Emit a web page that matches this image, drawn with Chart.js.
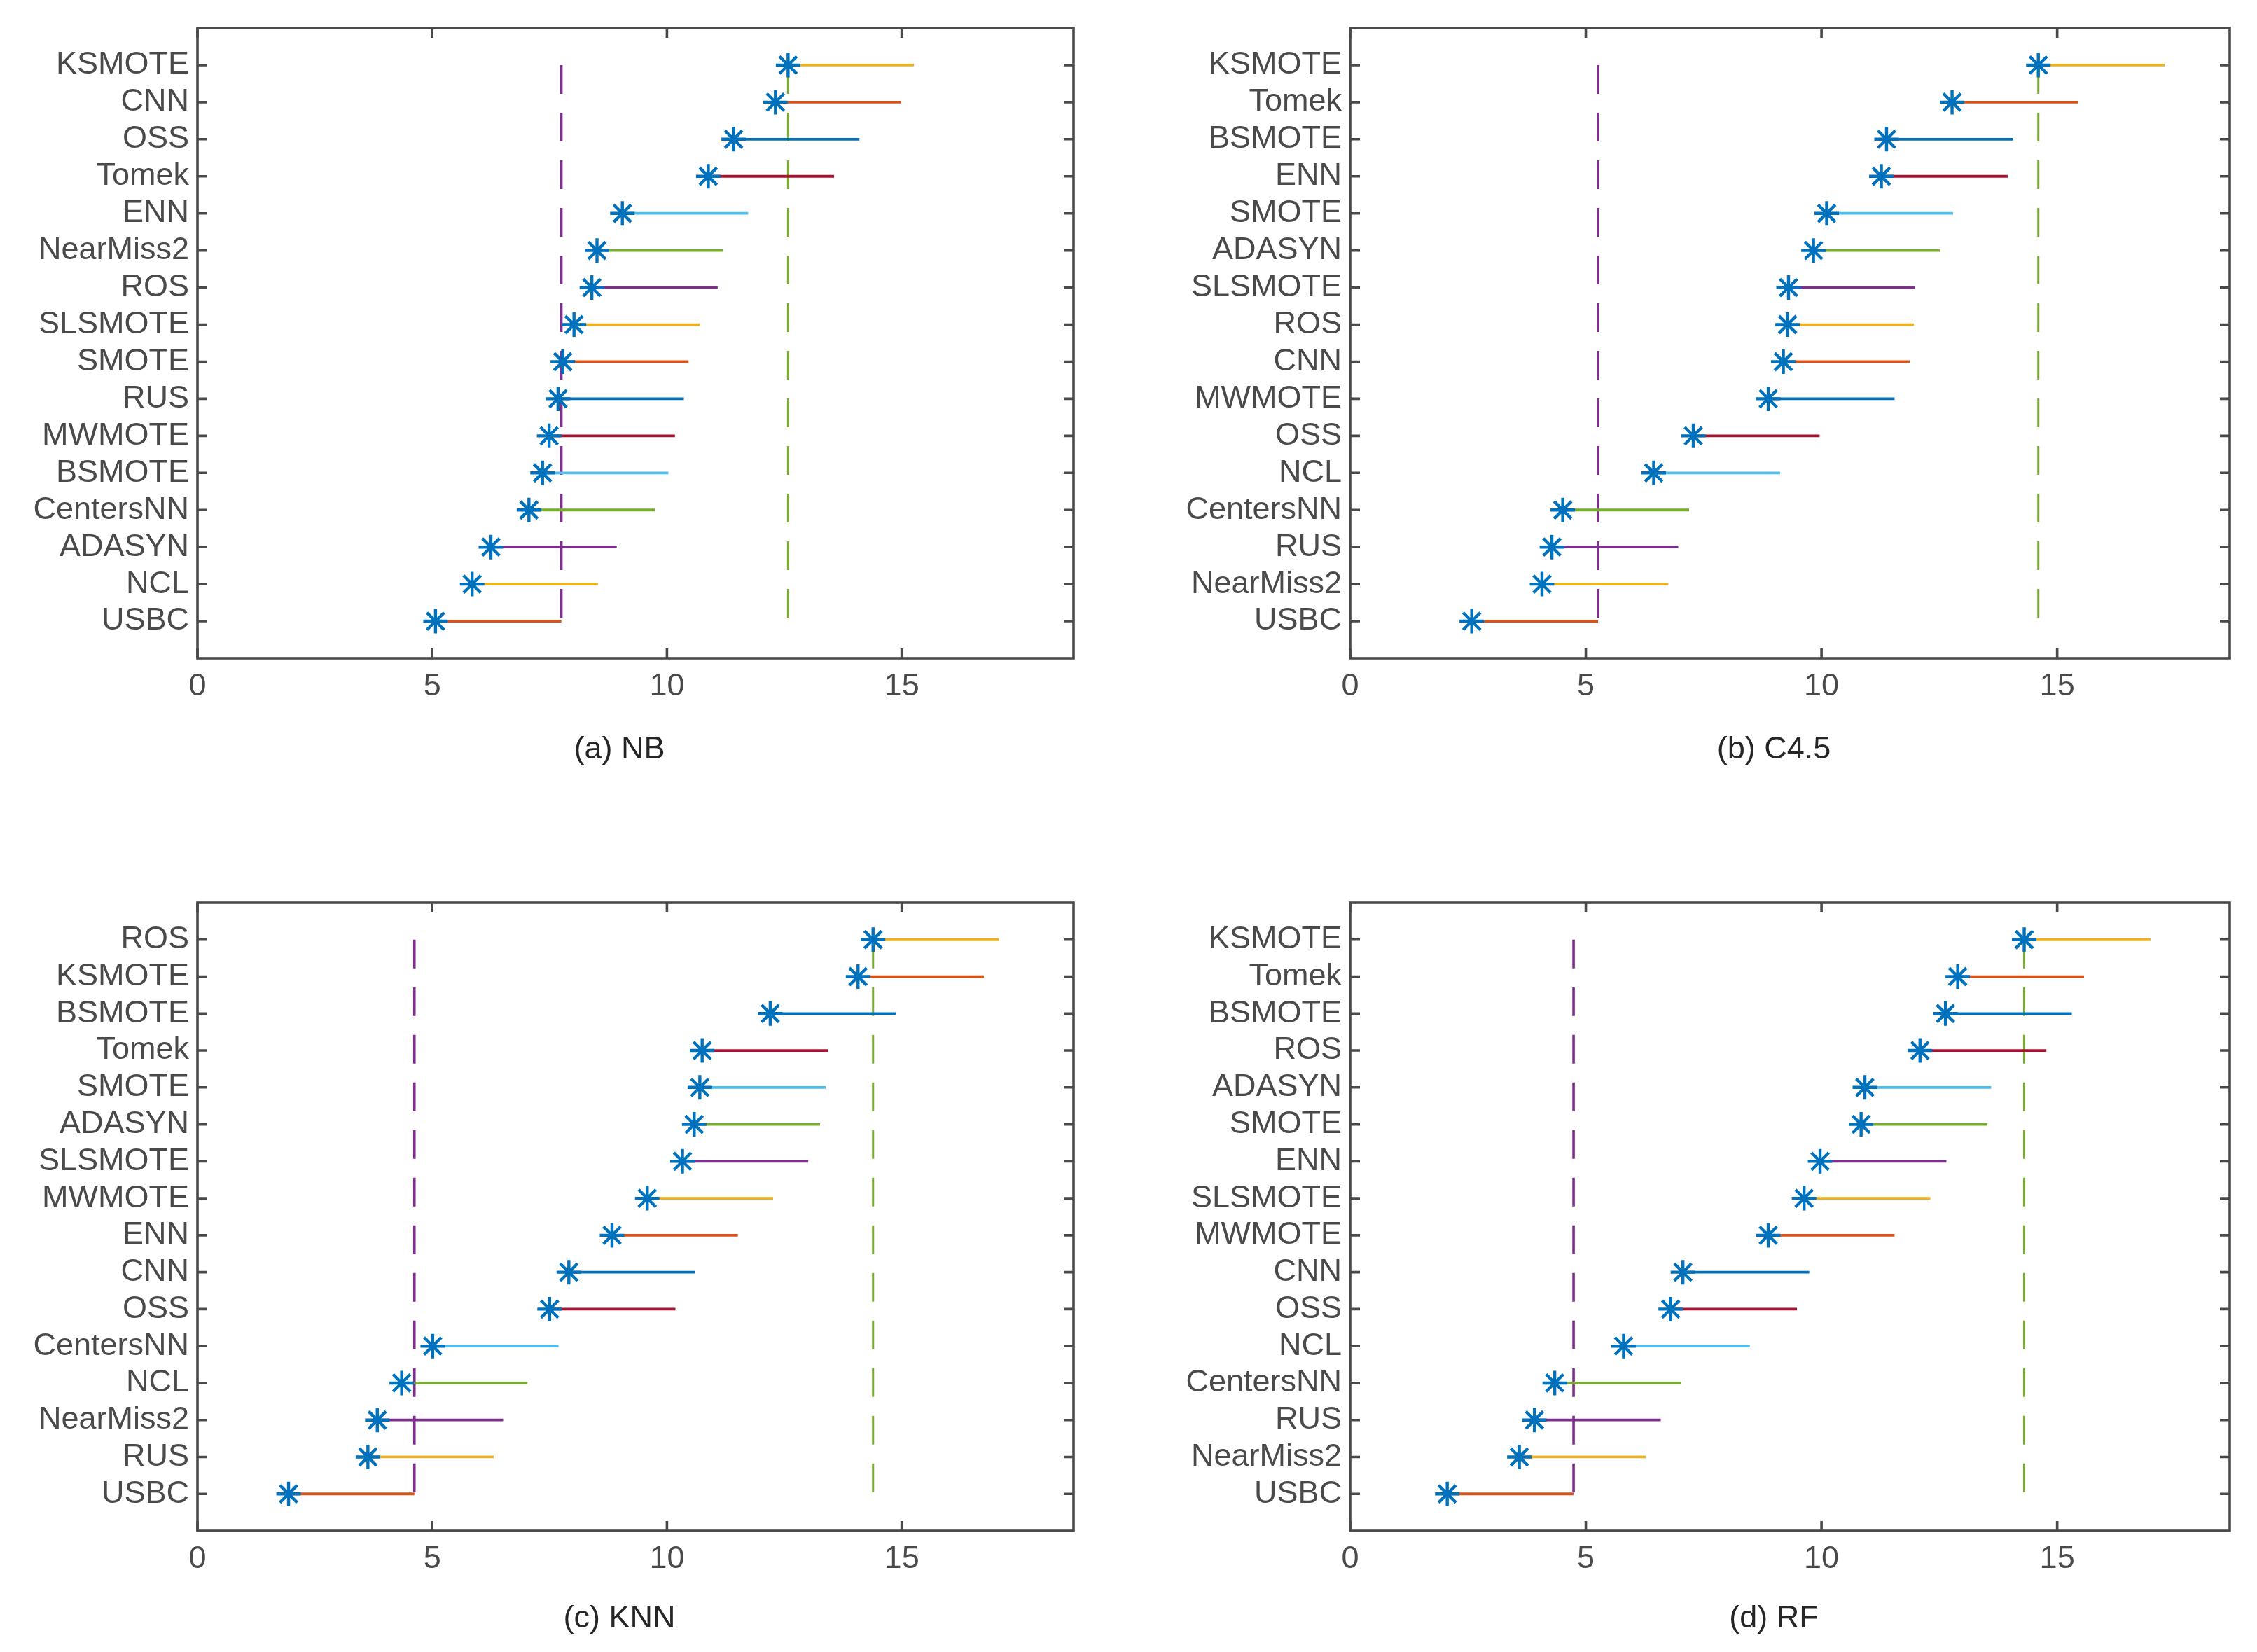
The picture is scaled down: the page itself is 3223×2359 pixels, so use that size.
<!DOCTYPE html>
<html>
<head>
<meta charset="utf-8">
<script src="https://cdn.jsdelivr.net/npm/chart.js@4.4.1/dist/chart.umd.min.js"></script>
<style>
  html, body { margin: 0; padding: 0; background: #fff; }
  body { width: 3223px; height: 2359px; position: relative; overflow: hidden; }
  .panel { position: absolute; }
</style>
</head>
<body>
<div class="panel" style="left:0;top:0;width:1611px;height:1180px"><canvas id="nb"></canvas></div>
<div class="panel" style="left:1611px;top:0;width:1612px;height:1180px"><canvas id="c45"></canvas></div>
<div class="panel" style="left:0;top:1180px;width:1611px;height:1179px"><canvas id="knn"></canvas></div>
<div class="panel" style="left:1611px;top:1180px;width:1612px;height:1179px"><canvas id="rf"></canvas></div>
<script>
// mean ranks, listed top to bottom as in the figure
const nbNames = ["KSMOTE", "CNN", "OSS", "Tomek", "ENN", "NearMiss2", "ROS", "SLSMOTE",
  "SMOTE", "RUS", "MWMOTE", "BSMOTE", "CentersNN", "ADASYN", "NCL", "USBC"];
const nbRanks = [12.58, 12.31, 11.42, 10.88, 9.05, 8.51, 8.40, 8.02,
  7.78, 7.68, 7.49, 7.35, 7.06, 6.25, 5.85, 5.07];

const c45Names = ["KSMOTE", "Tomek", "BSMOTE", "ENN", "SMOTE", "ADASYN", "SLSMOTE", "ROS",
  "CNN", "MWMOTE", "OSS", "NCL", "CentersNN", "RUS", "NearMiss2", "USBC"];
const c45Ranks = [14.60, 12.77, 11.38, 11.27, 10.11, 9.83, 9.30, 9.28,
  9.19, 8.87, 7.28, 6.44, 4.51, 4.28, 4.07, 2.58];

const knnNames = ["ROS", "KSMOTE", "BSMOTE", "Tomek", "SMOTE", "ADASYN", "SLSMOTE", "MWMOTE",
  "ENN", "CNN", "OSS", "CentersNN", "NCL", "NearMiss2", "RUS", "USBC"];
const knnRanks = [14.39, 14.07, 12.20, 10.75, 10.70, 10.58, 10.33, 9.58,
  8.83, 7.91, 7.50, 5.01, 4.35, 3.83, 3.63, 1.94];

const rfNames = ["KSMOTE", "Tomek", "BSMOTE", "ROS", "ADASYN", "SMOTE", "ENN", "SLSMOTE",
  "MWMOTE", "CNN", "OSS", "NCL", "CentersNN", "RUS", "NearMiss2", "USBC"];
const rfRanks = [14.30, 12.89, 12.63, 12.09, 10.92, 10.84, 9.97, 9.63,
  8.87, 7.06, 6.80, 5.80, 4.34, 3.91, 3.59, 2.06];

// critical difference (same for all four classifiers)
const cd = 2.68;
const xTicks = [0, 5, 10, 15];
const xMax = 18.66;

// matlab default colour order
const colors = ["#0072BD", "#D95319", "#EDB120", "#7E2F8E", "#77AC30", "#4DBEEE", "#A2142F"];
const axisColor = "#4a4a4a";

const framePlugin = {
  id: "frame",
  afterDraw(chart) {
    const ctx = chart.ctx;
    const a = chart.chartArea;
    const xs = chart.scales.x, ys = chart.scales.y;
    const tl = 14;
    ctx.save();
    ctx.strokeStyle = axisColor;
    ctx.lineWidth = 3.6;
    ctx.strokeRect(a.left, a.top, a.right - a.left, a.bottom - a.top);
    ctx.beginPath();
    xTicks.forEach((v) => {
      const px = xs.getPixelForValue(v);
      ctx.moveTo(px, a.bottom); ctx.lineTo(px, a.bottom - tl);
      ctx.moveTo(px, a.top); ctx.lineTo(px, a.top + tl);
    });
    ys.ticks.forEach((t) => {
      const py = ys.getPixelForValue(t.value);
      ctx.moveTo(a.left, py); ctx.lineTo(a.left + tl, py);
      ctx.moveTo(a.right, py); ctx.lineTo(a.right - tl, py);
    });
    ctx.stroke();
    // caption under the plot
    const o = chart.options.plugins.frame;
    ctx.fillStyle = "#262626";
    ctx.font = "45px 'Liberation Sans', Arial, sans-serif";
    ctx.textAlign = "center";
    ctx.textBaseline = "middle";
    ctx.fillText(o.caption, (a.left + a.right) / 2 - 23, o.captionY);
    ctx.restore();
  }
};

function makePanel(id, names, ranks, caption, box) {
  const n = names.length;
  const datasets = [];

  // stars on top
  datasets.push({
    data: ranks.map((r, i) => ({ x: r, y: n - i })),
    showLine: false,
    pointStyle: "star",
    pointRadius: 17.5,
    pointBorderWidth: 4.4,
    borderColor: colors[0],
    backgroundColor: colors[0],
    order: 0
  });

  // critical difference intervals
  ranks.forEach((r, i) => {
    const y = n - i;
    datasets.push({
      data: [{ x: r, y: y }, { x: r + cd, y: y }],
      showLine: true,
      borderColor: colors[y % 7],
      borderWidth: 3.8,
      pointRadius: 0,
      order: 1
    });
  });

  // vertical dashed references
  const low = ranks[n - 1] + cd;
  const best = ranks[0];
  datasets.push({
    data: [{ x: low, y: n }, { x: low, y: 1 }],
    showLine: true, borderColor: colors[3], borderWidth: 3.6,
    borderDash: [41, 27], pointRadius: 0, order: 2
  });
  datasets.push({
    data: [{ x: best, y: n }, { x: best, y: 1 }],
    showLine: true, borderColor: colors[4], borderWidth: 3,
    borderDash: [41, 27], pointRadius: 0, order: 2
  });

  const tickFont = { family: "'Liberation Sans', Arial, sans-serif", size: 45 };

  new Chart(document.getElementById(id), {
    type: "scatter",
    data: { datasets: datasets },
    options: {
      responsive: true,
      maintainAspectRatio: false,
      devicePixelRatio: 1,
      animation: false,
      events: [],
      layout: {
        padding: { left: 0, top: box.top, right: box.w - box.right, bottom: box.h - box.bottom - 120 }
      },
      plugins: {
        legend: { display: false },
        tooltip: { enabled: false },
        frame: { caption: caption, captionY: box.captionY }
      },
      scales: {
        x: {
          type: "linear",
          min: 0,
          max: xMax,
          afterBuildTicks: (s) => { s.ticks = xTicks.map((v) => ({ value: v })); },
          afterFit: (s) => { s.height = 120; },
          grid: { display: false, drawTicks: false },
          border: { display: false },
          ticks: { color: axisColor, font: tickFont, padding: 14, maxRotation: 0 }
        },
        y: {
          type: "linear",
          min: 0,
          max: n + 1,
          afterBuildTicks: (s) => { s.ticks = names.map((_, i) => ({ value: i + 1 })); },
          afterFit: (s) => { s.width = box.left; },
          grid: { display: false, drawTicks: false },
          border: { display: false },
          ticks: {
            color: axisColor, font: tickFont, padding: 12, autoSkip: false,
            callback: (v) => names[n - v]
          }
        }
      }
    },
    plugins: [framePlugin]
  });
}

makePanel("nb", nbNames, nbRanks, "(a) NB",
  { w: 1611, h: 1180, left: 282, right: 1533, top: 40, bottom: 940, captionY: 1071 });
makePanel("c45", c45Names, c45Ranks, "(b) C4.5",
  { w: 1612, h: 1180, left: 317, right: 1573, top: 40, bottom: 940, captionY: 1071 });
makePanel("knn", knnNames, knnRanks, "(c) KNN",
  { w: 1611, h: 1179, left: 282, right: 1533, top: 109, bottom: 1006, captionY: 1132 });
makePanel("rf", rfNames, rfRanks, "(d) RF",
  { w: 1612, h: 1179, left: 317, right: 1573, top: 109, bottom: 1006, captionY: 1132 });
</script>
</body>
</html>
